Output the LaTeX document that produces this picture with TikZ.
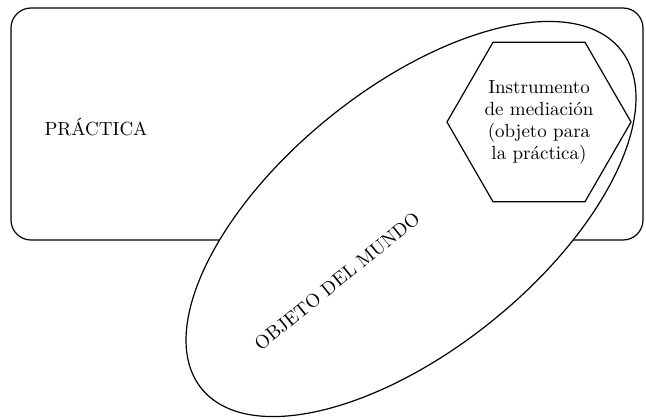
\documentclass[tikz,border=0pt]{standalone}
\usepackage{fontspec}
\usepackage{tikz}
\usetikzlibrary{shapes.geometric}

\begin{document}
\begin{tikzpicture}[x=.5pt,y=.5pt,line width=.6pt,
  lbl/.style={font=\fontsize{9.5}{11}\selectfont},
  hexa/.style={draw,fill=white,regular polygon,regular polygon sides=6,
    minimum size=91pt,inner sep=1pt,align=center}]
\useasboundingbox (0,0) rectangle (646,419);
% practica
\draw[rounded corners=10pt] (11,179) rectangle (643,411);
% objeto del mundo (covers the box)
\node[draw,fill=white,ellipse,rotate=39,minimum width=269.5pt,
  minimum height=130.3pt] (mundo) at (411,200) {};
% instrumento
\node[hexa,lbl] (instr) at (539,297) {Instrumento\\de mediación\\(objeto para\\la práctica)};
\node[lbl] (prac) at (96,292) {PRÁCTICA};
\node[lbl,rotate=39] (obj) at (337,138) {OBJETO DEL MUNDO};
\end{tikzpicture}
\end{document}
